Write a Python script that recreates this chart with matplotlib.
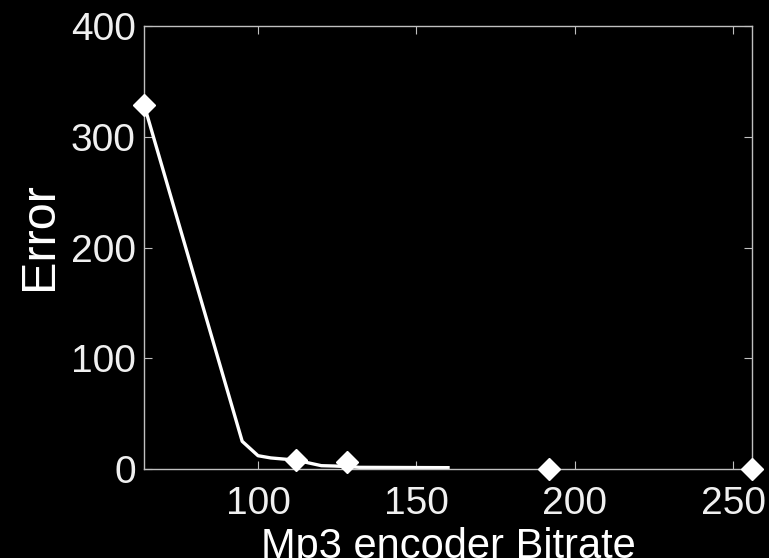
import matplotlib.pyplot as plt

# Error curve (dense sampling) and the marked bitrates
line_bitrate = [64, 95, 100, 104, 108, 112, 116, 120, 124, 128, 132, 160]
line_error = [329, 25, 12, 10, 9, 8, 5.5, 3, 2.7, 2.2, 1.5, 1.2]

mark_bitrate = [64, 112, 128, 192, 256]
mark_error = [329, 8, 6, 0, 0]

x_ticks = [100, 150, 200, 250]
y_ticks = [0, 100, 200, 300, 400]

plt.rcParams['font.family'] = ['Liberation Sans', 'DejaVu Sans']

fig = plt.figure(figsize=(7.69, 5.58), dpi=100, facecolor='black')
ax = fig.add_axes([0.1873, 0.1595, 0.7906, 0.7939], facecolor='black')

ax.plot(line_bitrate, line_error, color='white', linewidth=2.4)
ax.plot(mark_bitrate, mark_error, linestyle='none', marker='D',
        markersize=11.5, color='white', clip_on=False, zorder=5)

ax.set_xlim(64, 256)
ax.set_ylim(0, 400)
ax.set_xticks(x_ticks)
ax.set_yticks(y_ticks)

for side in ax.spines.values():
    side.set_color('#c0c0c0')
    side.set_linewidth(1.0)

ax.tick_params(axis='both', direction='in', length=6, width=0.8,
               color='#c0c0c0', labelcolor='#f0f0f0', labelsize=28,
               top=True, right=True)
ax.tick_params(axis='x', pad=12)
ax.tick_params(axis='y', pad=6)

ax.set_xlabel('Mp3 encoder Bitrate', color='white', fontsize=30, labelpad=4)
ax.set_ylabel('Error', color='white', fontsize=35)
ax.yaxis.set_label_coords(-0.135, 0.525)

plt.savefig('out.png', dpi=100, facecolor='black')
